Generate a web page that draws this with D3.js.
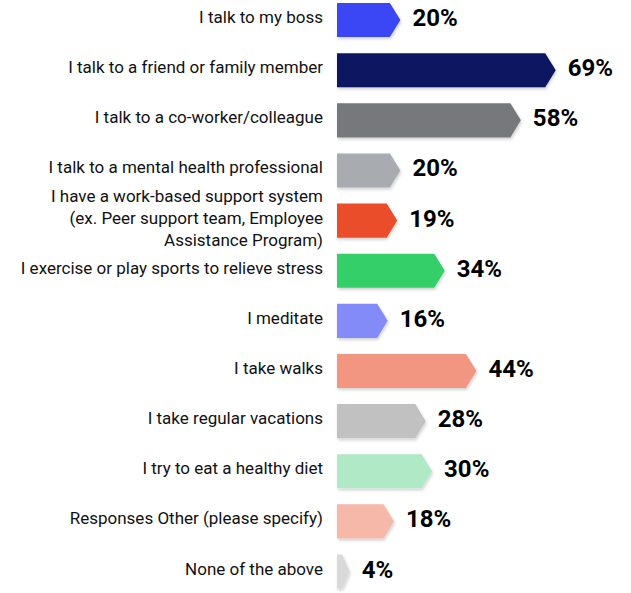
<!DOCTYPE html>
<html>
<head>
<meta charset="utf-8">
<script src="https://cdn.jsdelivr.net/npm/d3@7"></script>
<style>
  html, body { margin: 0; padding: 0; background: #ffffff; }
  svg { display: block; }
</style>
</head>
<body>
<svg id="chart" width="631" height="593"></svg>
<script>
const categories = [
  "I talk to my boss",
  "I talk to a friend or family member",
  "I talk to a co-worker/colleague",
  "I talk to a mental health professional",
  "I have a work-based support system\n(ex. Peer support team, Employee\nAssistance Program)",
  "I exercise or play sports to relieve stress",
  "I meditate",
  "I take walks",
  "I take regular vacations",
  "I try to eat a healthy diet",
  "Responses Other (please specify)",
  "None of the above"
];
const values = [20, 69, 58, 20, 19, 34, 16, 44, 28, 30, 18, 4];
const colors = ["#3a47f5", "#0e1560", "#76787c", "#a8acb1", "#ea4e2c", "#35cf6a",
                "#828bf7", "#f39681", "#c1c1c1", "#afe9c6", "#f6b9a9", "#d9d9d9"];

const svg = d3.select("#chart");
const defs = svg.append("defs");
const f = defs.append("filter").attr("id", "sh")
  .attr("x", "-10%").attr("y", "-20%").attr("width", "130%").attr("height", "160%");
f.append("feDropShadow").attr("dx", 1).attr("dy", 2).attr("stdDeviation", 1.5)
  .attr("flood-color", "#000").attr("flood-opacity", 0.18);

const x = d3.scaleLinear().domain([0, 100]).range([337, 654]);
const y = d3.scaleBand().domain(d3.range(categories.length))
  .range([-5, 596.6]).paddingInner(0.32).paddingOuter(0.16);

const bh = y.bandwidth();

function arrow(v) {
  const x0 = x(0), t = x(v), w = t - x0;
  const a = Math.min(10.5, w * 0.6);
  return [[x0, 0], [t - a, 0], [t, bh / 2], [t - a, bh], [x0, bh]];
}

const rows = svg.selectAll("g.row").data(values).join("g")
  .attr("class", "row")
  .attr("transform", (d, i) => `translate(0,${y(i)})`);

rows.append("path")
  .attr("d", d => d3.line()(arrow(d)) + "Z")
  .attr("fill", (d, i) => colors[i])
  .attr("filter", "url(#sh)");

rows.append("text")
  .attr("x", d => x(d) + 12)
  .attr("y", bh / 2 - 2)
  .attr("dominant-baseline", "central")
  .attr("font-family", "Roboto, sans-serif")
  .attr("font-weight", 700)
  .attr("font-size", 24)
  .attr("fill", "#000")
  .text(d => d + "%");

rows.each(function(d, i) {
  const lines = categories[i].split("\n");
  const lh = 22;
  const t = d3.select(this).append("text")
    .attr("text-anchor", "end")
    .attr("font-family", "Roboto, sans-serif")
    .attr("font-size", 17)
    .attr("fill", "#111");
  lines.forEach((ln, k) => {
    t.append("tspan")
      .attr("x", 323)
      .attr("y", bh / 2 - 3 + (k - (lines.length - 1) / 2) * lh)
      .attr("dominant-baseline", "central")
      .text(ln);
  });
});
</script>
</body>
</html>
